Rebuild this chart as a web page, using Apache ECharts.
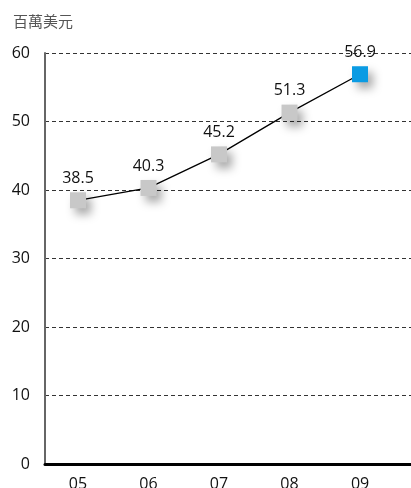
<!DOCTYPE html>
<html>
<head>
<meta charset="utf-8">
<script src="https://cdn.jsdelivr.net/npm/echarts@6/dist/echarts.min.js"></script>
<style>
  html, body { margin: 0; padding: 0; background: #fff; }
  #chart { width: 411px; height: 488px; }
</style>
</head>
<body>
<div id="chart"></div>
<script>
// 年份與數值（百萬美元）
const years = ['05', '06', '07', '08', '09'];
const values = [38.5, 40.3, 45.2, 51.3, 56.9];
const yTicks = [0, 10, 20, 30, 40, 50, 60];

const chart = echarts.init(document.getElementById('chart'));

const points = values.map((v, i) => {
  const item = { value: [i, v] };
  if (i === values.length - 1) {
    item.itemStyle = { color: '#0a9be3' };
  }
  return item;
});

chart.setOption({
  animation: false,
  textStyle: { fontFamily: 'Open Sans' },
  title: {
    text: '百萬美元',
    left: 8,
    top: 9,
    textStyle: { fontSize: 15, fontWeight: 'normal', color: '#555', fontFamily: 'Noto Sans CJK TC' }
  },
  grid: { left: 45, right: 0, top: 53, bottom: 24, outerBoundsMode: 'none' },
  xAxis: {
    type: 'value',
    min: -0.468,
    max: 4.723,
    splitLine: { show: false },
    axisTick: { show: false },
    axisLine: { show: true, onZero: false, lineStyle: { color: '#000', width: 3 } },
    axisLabel: {
      customValues: years.map((y, i) => i),
      formatter: v => years[Math.round(v)],
      fontSize: 16,
      color: '#111',
      margin: 12
    }
  },
  yAxis: {
    type: 'value',
    min: yTicks[0],
    max: yTicks[yTicks.length - 1],
    interval: 10,
    axisLine: { show: true, onZero: false, lineStyle: { color: '#666', width: 2 } },
    axisTick: { show: false },
    axisLabel: { fontSize: 16, color: '#111', margin: 15 },
    splitLine: { lineStyle: { color: '#333', width: 1, type: [4, 3] } }
  },
  series: [{
    type: 'line',
    data: points,
    symbol: 'rect',
    symbolSize: 16,
    lineStyle: { color: '#000', width: 1.3 },
    itemStyle: {
      color: '#c8c8c8',
      shadowBlur: 10,
      shadowOffsetX: 5,
      shadowOffsetY: 6,
      shadowColor: 'rgba(0,0,0,0.35)'
    },
    label: {
      show: true,
      position: 'top',
      distance: 6,
      fontSize: 16,
      color: '#111',
      formatter: p => p.value[1].toFixed(1)
    }
  }]
});
</script>
</body>
</html>
